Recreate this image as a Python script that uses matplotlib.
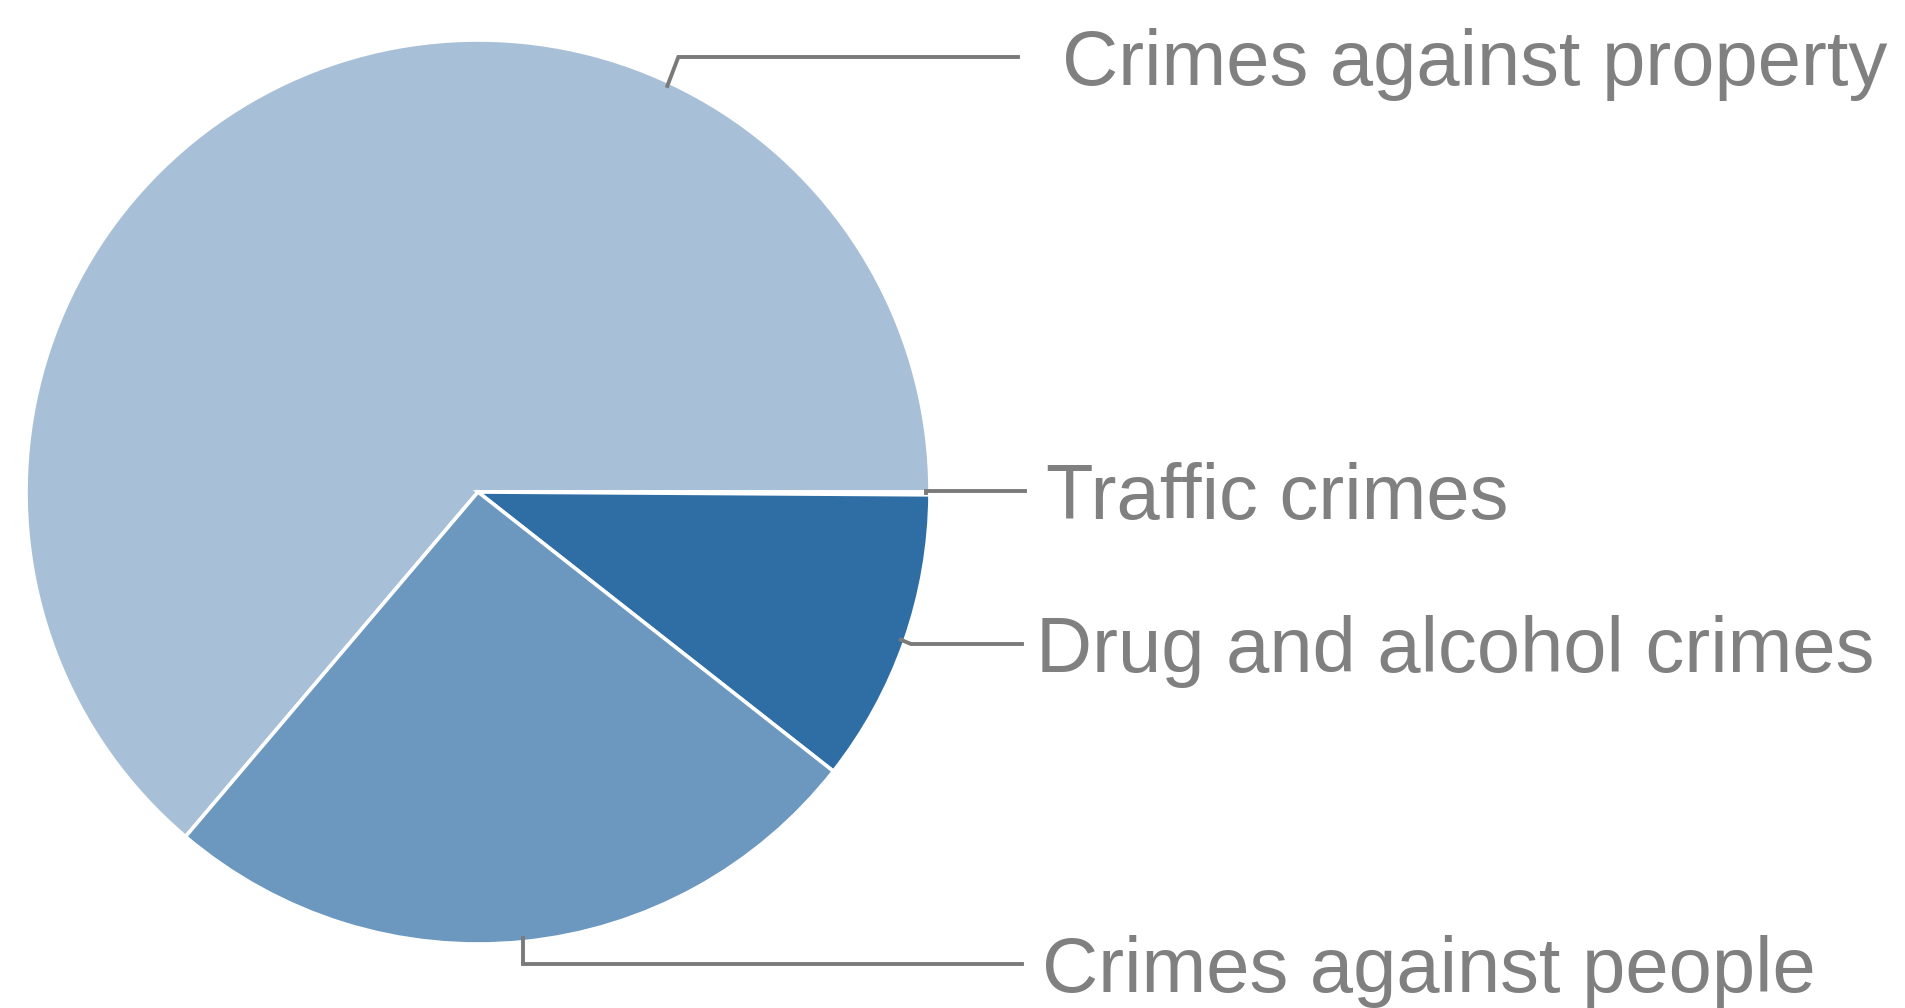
import numpy as np
import matplotlib.pyplot as plt

plt.rcParams['font.family'] = ['Liberation Sans', 'DejaVu Sans']

# data (percent of cases)
categories = ['Crimes against property', 'Traffic crimes',
              'Drug and alcohol crimes', 'Crimes against people']
shares = [63.8, 0.1, 10.5, 25.6]
colors = ['#a7c0d7', '#2a5f8f', '#2f6ea5', '#6c98bf']

W, H = 1906, 1008
fig = plt.figure(figsize=(W / 100, H / 100), dpi=100)
ax = fig.add_axes([0, 0, 1, 1])

cx, cy, r = 478, 1008 - 492, 452
start = shares[0] / sum(shares) * 360  # first slice ends at 3 o'clock
wedges, _ = ax.pie(shares, colors=colors, startangle=start, counterclock=False,
                   center=(cx, cy), radius=r, frame=True,
                   wedgeprops=dict(edgecolor='white', linewidth=2.6))
ax.set_xlim(0, W)
ax.set_ylim(0, H)
ax.set_aspect('equal')
ax.axis('off')

# label layout: y of the label line (pixels from top), text x start
label_y = [57, 491, 644, 964]
text_x = [1062, 1046, 1036, 1042]
line_end = [1018, 1025, 1022, 1022]
anchor_ang = [65, None, None, None]  # property leader not at slice middle

grey = '#7a7a7a'
for i, w in enumerate(wedges):
    ang = anchor_ang[i] if anchor_ang[i] is not None else (w.theta1 + w.theta2) / 2
    a = np.deg2rad(ang)
    x0 = cx + (r - 4) * np.cos(a)
    y0 = cy + (r - 4) * np.sin(a)
    yl = H - label_y[i]
    if i == 0:
        xe = x0 + 11
    elif i == 2:
        xe = x0 + 10
    else:
        xe = x0
    ax.plot([x0, xe, line_end[i]], [y0, yl, yl], color=grey, lw=2.8,
            solid_joinstyle='miter')
    ax.text(text_x[i], yl - 28, categories[i], fontsize=56, color='#808080',
            ha='left', va='baseline')

fig.savefig('out.png', dpi=100, facecolor='white')
